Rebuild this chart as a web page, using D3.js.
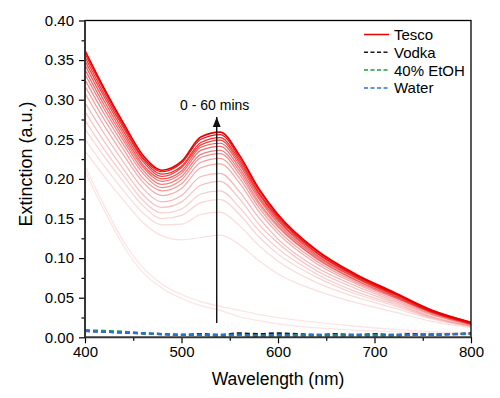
<!DOCTYPE html>
<html><head><meta charset="utf-8">
<script src="https://cdn.jsdelivr.net/npm/d3@7"></script>
<style>
html,body{margin:0;padding:0;background:#fff;}
svg{display:block;font-family:"Liberation Sans",Arial,sans-serif;}
</style></head>
<body>
<svg id="chart" width="500" height="398"></svg>
<script>
// ---- data ----
const wavelengths = [400,420,440,460,480,500,520,540,560,580,600,640,680,720,760,800];
// Tesco spectra, 0 min (first) to 60 min (last)
const tescoSpectra = [
  [0.210,0.160,0.115,0.082,0.062,0.049,0.040,0.034,0.026,0.021,0.017,0.012,0.009,0.007,0.005,0.004],
  [0.216,0.166,0.121,0.088,0.067,0.054,0.045,0.039,0.034,0.029,0.025,0.019,0.014,0.010,0.007,0.005],
  [0.235,0.203,0.173,0.145,0.128,0.123,0.126,0.129,0.117,0.097,0.080,0.059,0.044,0.032,0.020,0.012],
  [0.250,0.216,0.185,0.157,0.142,0.143,0.155,0.158,0.141,0.116,0.096,0.069,0.051,0.037,0.023,0.013],
  [0.263,0.228,0.196,0.166,0.150,0.154,0.170,0.174,0.155,0.127,0.105,0.076,0.055,0.040,0.024,0.014],
  [0.274,0.237,0.204,0.173,0.157,0.162,0.181,0.185,0.164,0.135,0.112,0.080,0.058,0.042,0.025,0.014],
  [0.285,0.247,0.212,0.180,0.164,0.171,0.192,0.197,0.175,0.143,0.119,0.084,0.062,0.044,0.026,0.015],
  [0.296,0.257,0.221,0.188,0.171,0.179,0.203,0.207,0.184,0.151,0.124,0.088,0.065,0.046,0.028,0.016],
  [0.308,0.267,0.230,0.196,0.179,0.188,0.214,0.219,0.195,0.159,0.131,0.093,0.068,0.048,0.029,0.016],
  [0.317,0.275,0.237,0.201,0.185,0.194,0.221,0.226,0.201,0.164,0.135,0.096,0.070,0.050,0.030,0.017],
  [0.325,0.282,0.243,0.207,0.189,0.199,0.227,0.232,0.206,0.168,0.139,0.099,0.072,0.051,0.031,0.017],
  [0.332,0.288,0.248,0.211,0.193,0.203,0.231,0.236,0.210,0.171,0.141,0.100,0.073,0.052,0.031,0.017],
  [0.338,0.293,0.252,0.215,0.197,0.207,0.236,0.241,0.214,0.175,0.144,0.102,0.075,0.053,0.032,0.018],
  [0.344,0.298,0.256,0.218,0.200,0.210,0.240,0.245,0.218,0.178,0.147,0.104,0.076,0.054,0.032,0.018],
  [0.349,0.303,0.260,0.222,0.203,0.214,0.243,0.249,0.221,0.181,0.149,0.106,0.077,0.055,0.033,0.018],
  [0.354,0.307,0.264,0.225,0.206,0.216,0.246,0.252,0.224,0.183,0.151,0.107,0.078,0.056,0.033,0.019],
  [0.358,0.311,0.267,0.227,0.209,0.220,0.250,0.256,0.227,0.186,0.153,0.109,0.079,0.056,0.034,0.019],
  [0.362,0.314,0.270,0.230,0.211,0.222,0.253,0.259,0.230,0.188,0.155,0.110,0.080,0.057,0.034,0.019]
];
const controlWavelengths = [400,420,440,460,480,500,520,540,560,580,600,620,640,660,680,700,720,740,760,780,800];
const vodka = [0.008,0.007,0.006,0.005,0.004,0.003,0.004,0.003,0.005,0.004,0.005,0.004,0.003,0.004,0.003,0.004,0.003,0.004,0.003,0.004,0.005];
const ethanol40 = [0.009,0.008,0.007,0.005,0.004,0.003,0.003,0.002,0.003,0.002,0.002,0.003,0.002,0.003,0.002,0.003,0.002,0.003,0.003,0.004,0.004];
const water = [0.008,0.007,0.006,0.005,0.004,0.003,0.003,0.003,0.003,0.002,0.003,0.002,0.003,0.002,0.003,0.002,0.003,0.003,0.004,0.004,0.005];
const xTicks = [400,500,600,700,800];
const xMinor = [450,550,650,750];
const yTicks = [0,0.05,0.10,0.15,0.20,0.25,0.30,0.35,0.40];
const yMinor = [0.025,0.075,0.125,0.175,0.225,0.275,0.325,0.375];
const legendLabels = ["Tesco","Vodka","40% EtOH","Water"];
const arrowWavelength = 536.5;
const arrowRange = [0.018, 0.278];
const annotation = "0 - 60 mins";

// ---- drawing ----
const svg = d3.select("#chart");
const L = 85, R = 471, T = 20.5, B = 337.3;
const x = d3.scaleLinear().domain([400,800]).range([L,R]);
const y = d3.scaleLinear().domain([0,0.4]).range([B,T]);

svg.append("defs").append("clipPath").attr("id","clip")
  .append("rect").attr("x",L).attr("y",T).attr("width",R-L).attr("height",B-T);

const plot = svg.append("g").attr("clip-path","url(#clip)");

const line = d3.line().x(d=>x(d[0])).y(d=>y(d[1])).curve(d3.curveMonotoneX);
const n = tescoSpectra.length;
const op = d3.scalePow().exponent(1.8).domain([0,n-1]).range([0.11,1]);
tescoSpectra.forEach((s,k)=>{
  plot.append("path")
    .attr("d", line(wavelengths.map((w,i)=>[w,s[i]])))
    .attr("fill","none")
    .attr("stroke","#e80000")
    .attr("stroke-opacity", op(k))
    .attr("stroke-width", k===n-1 ? 1.6 : 1.2);
});

const controls = [
  {vals: vodka, color:"#1a1a1a"},
  {vals: ethanol40, color:"#1f9a3c"},
  {vals: water, color:"#2a72d6"}
];
controls.forEach(c=>{
  plot.append("path")
    .attr("d", line(controlWavelengths.map((w,i)=>[w,c.vals[i]])))
    .attr("fill","none").attr("stroke",c.color)
    .attr("stroke-width",2.2).attr("stroke-dasharray","5,3");
});

// arrow
svg.append("defs").append("marker").attr("id","ah")
  .attr("viewBox","0 0 10 10").attr("refX",10).attr("refY",5)
  .attr("markerWidth",10).attr("markerHeight",10).attr("markerUnits","userSpaceOnUse")
  .attr("orient","auto")
  .append("path").attr("d","M0,1 L10,5 L0,9 Z").attr("fill","#111");
svg.append("line")
  .attr("x1",x(arrowWavelength)).attr("x2",x(arrowWavelength))
  .attr("y1",y(arrowRange[0])).attr("y2",y(arrowRange[1]))
  .attr("stroke","#111").attr("stroke-width",1.4).attr("marker-end","url(#ah)");
svg.append("text").attr("x",x(arrowWavelength)-2).attr("y",110)
  .attr("text-anchor","middle").attr("font-size",14).attr("fill","#000").text(annotation);

// axes
function styleAxis(g){
  g.select(".domain").remove();
  g.selectAll(".tick line").attr("stroke","#000").attr("stroke-width",1.2);
  g.selectAll(".tick text").attr("font-size",15).attr("fill","#000")
    .attr("font-family",'"Liberation Sans",Arial,sans-serif');
}
svg.append("g").attr("transform",`translate(0,${B})`)
  .call(d3.axisBottom(x).tickValues(xTicks).tickSize(6).tickPadding(3).tickFormat(d3.format("d")))
  .call(styleAxis);
svg.append("g").attr("transform",`translate(0,${B})`)
  .call(d3.axisBottom(x).tickValues(xMinor).tickSize(3.5).tickFormat(""))
  .call(styleAxis);
svg.append("g").attr("transform",`translate(${L},0)`)
  .call(d3.axisLeft(y).tickValues(yTicks).tickSize(6).tickPadding(5).tickFormat(d3.format(".2f")))
  .call(styleAxis);
svg.append("g").attr("transform",`translate(${L},0)`)
  .call(d3.axisLeft(y).tickValues(yMinor).tickSize(3.5).tickFormat(""))
  .call(styleAxis);

// frame
svg.append("rect").attr("x",L).attr("y",T).attr("width",R-L).attr("height",B-T)
  .attr("fill","none").attr("stroke","#000").attr("stroke-width",1.3);
svg.append("line").attr("x1",L).attr("x2",L).attr("y1",T).attr("y2",B)
  .attr("stroke","#333").attr("stroke-width",1.8);
svg.append("line").attr("x1",L).attr("x2",R).attr("y1",B).attr("y2",B)
  .attr("stroke","#333").attr("stroke-width",1.8);

// axis titles
svg.append("text").attr("x",(L+R)/2).attr("y",385).attr("text-anchor","middle")
  .attr("font-size",17.5).attr("fill","#000").text("Wavelength (nm)");
svg.append("text").attr("transform","translate(32,164) rotate(-90)").attr("text-anchor","middle")
  .attr("font-size",18).attr("fill","#000").text("Extinction (a.u.)");

// legend
const legColors = ["#e80000","#1a1a1a","#1f9a3c","#2a72d6"];
legendLabels.forEach((lab,i)=>{
  const cy = 34.5 + i*17.8;
  svg.append("line").attr("x1",364).attr("x2",389).attr("y1",cy).attr("y2",cy)
    .attr("stroke",legColors[i]).attr("stroke-width",1.5)
    .attr("stroke-dasharray", i===0 ? null : "4,2.5");
  svg.append("text").attr("x",394).attr("y",cy+5.5).attr("font-size",15)
    .attr("fill","#000").text(lab);
});
</script>
</body></html>
